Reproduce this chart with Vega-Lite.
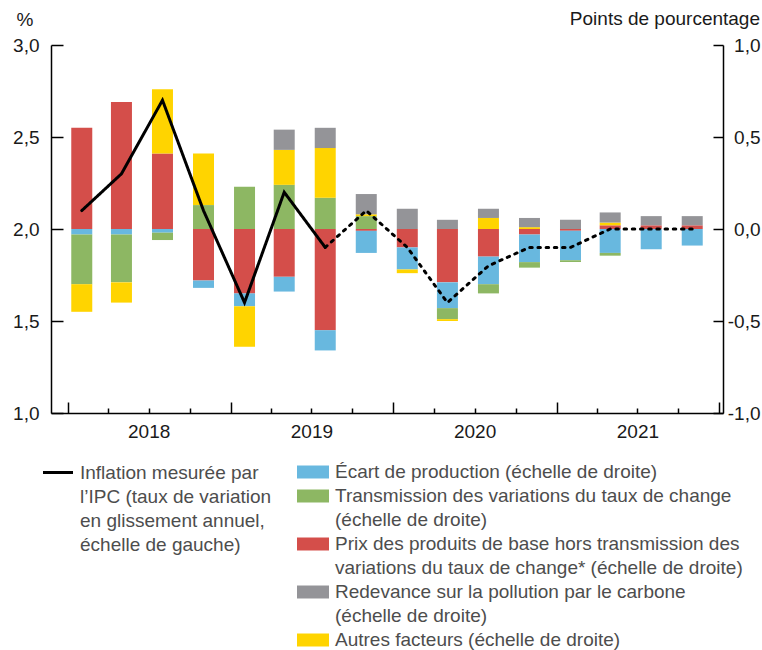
{
  "$schema": "https://vega.github.io/schema/vega-lite/v6.json",
  "width": 672,
  "height": 368,
  "autosize": {"type": "none"},
  "padding": {"left": 51, "top": 45, "right": 39, "bottom": 237},
  "datasets": {
    "barres": [
      {"date": "2018-02-01", "comp": "prix", "v": 0.55},
      {"date": "2018-02-01", "comp": "ecart", "v": -0.03},
      {"date": "2018-02-01", "comp": "transmission", "v": -0.27},
      {"date": "2018-02-01", "comp": "autres", "v": -0.15},
      {"date": "2018-05-01", "comp": "prix", "v": 0.69},
      {"date": "2018-05-01", "comp": "ecart", "v": -0.03},
      {"date": "2018-05-01", "comp": "transmission", "v": -0.26},
      {"date": "2018-05-01", "comp": "autres", "v": -0.11},
      {"date": "2018-08-01", "comp": "prix", "v": 0.41},
      {"date": "2018-08-01", "comp": "autres", "v": 0.35},
      {"date": "2018-08-01", "comp": "ecart", "v": -0.02},
      {"date": "2018-08-01", "comp": "transmission", "v": -0.04},
      {"date": "2018-11-01", "comp": "transmission", "v": 0.13},
      {"date": "2018-11-01", "comp": "autres", "v": 0.28},
      {"date": "2018-11-01", "comp": "prix", "v": -0.28},
      {"date": "2018-11-01", "comp": "ecart", "v": -0.04},
      {"date": "2019-02-01", "comp": "transmission", "v": 0.23},
      {"date": "2019-02-01", "comp": "prix", "v": -0.35},
      {"date": "2019-02-01", "comp": "ecart", "v": -0.07},
      {"date": "2019-02-01", "comp": "autres", "v": -0.22},
      {"date": "2019-05-01", "comp": "transmission", "v": 0.24},
      {"date": "2019-05-01", "comp": "autres", "v": 0.19},
      {"date": "2019-05-01", "comp": "redevance", "v": 0.11},
      {"date": "2019-05-01", "comp": "prix", "v": -0.26},
      {"date": "2019-05-01", "comp": "ecart", "v": -0.08},
      {"date": "2019-08-01", "comp": "transmission", "v": 0.17},
      {"date": "2019-08-01", "comp": "autres", "v": 0.27},
      {"date": "2019-08-01", "comp": "redevance", "v": 0.11},
      {"date": "2019-08-01", "comp": "prix", "v": -0.55},
      {"date": "2019-08-01", "comp": "ecart", "v": -0.11},
      {"date": "2019-11-01", "comp": "transmission", "v": 0.07},
      {"date": "2019-11-01", "comp": "autres", "v": 0.01},
      {"date": "2019-11-01", "comp": "redevance", "v": 0.11},
      {"date": "2019-11-01", "comp": "prix", "v": -0.01},
      {"date": "2019-11-01", "comp": "ecart", "v": -0.12},
      {"date": "2020-02-01", "comp": "redevance", "v": 0.11},
      {"date": "2020-02-01", "comp": "prix", "v": -0.10},
      {"date": "2020-02-01", "comp": "ecart", "v": -0.12},
      {"date": "2020-02-01", "comp": "autres", "v": -0.02},
      {"date": "2020-05-01", "comp": "redevance", "v": 0.05},
      {"date": "2020-05-01", "comp": "prix", "v": -0.29},
      {"date": "2020-05-01", "comp": "ecart", "v": -0.14},
      {"date": "2020-05-01", "comp": "transmission", "v": -0.06},
      {"date": "2020-05-01", "comp": "autres", "v": -0.01},
      {"date": "2020-08-01", "comp": "autres", "v": 0.06},
      {"date": "2020-08-01", "comp": "redevance", "v": 0.05},
      {"date": "2020-08-01", "comp": "prix", "v": -0.15},
      {"date": "2020-08-01", "comp": "ecart", "v": -0.15},
      {"date": "2020-08-01", "comp": "transmission", "v": -0.05},
      {"date": "2020-11-01", "comp": "autres", "v": 0.01},
      {"date": "2020-11-01", "comp": "redevance", "v": 0.05},
      {"date": "2020-11-01", "comp": "prix", "v": -0.03},
      {"date": "2020-11-01", "comp": "ecart", "v": -0.15},
      {"date": "2020-11-01", "comp": "transmission", "v": -0.03},
      {"date": "2021-02-01", "comp": "redevance", "v": 0.05},
      {"date": "2021-02-01", "comp": "prix", "v": -0.01},
      {"date": "2021-02-01", "comp": "ecart", "v": -0.16},
      {"date": "2021-02-01", "comp": "transmission", "v": -0.01},
      {"date": "2021-05-01", "comp": "prix", "v": 0.02},
      {"date": "2021-05-01", "comp": "autres", "v": 0.015},
      {"date": "2021-05-01", "comp": "redevance", "v": 0.055},
      {"date": "2021-05-01", "comp": "ecart", "v": -0.13},
      {"date": "2021-05-01", "comp": "transmission", "v": -0.015},
      {"date": "2021-08-01", "comp": "prix", "v": 0.02},
      {"date": "2021-08-01", "comp": "redevance", "v": 0.05},
      {"date": "2021-08-01", "comp": "ecart", "v": -0.11},
      {"date": "2021-11-01", "comp": "prix", "v": 0.02},
      {"date": "2021-11-01", "comp": "redevance", "v": 0.05},
      {"date": "2021-11-01", "comp": "ecart", "v": -0.09}
    ],
    "composantes": [
      {"comp": "prix", "rang": 1},
      {"comp": "ecart", "rang": 2},
      {"comp": "transmission", "rang": 3},
      {"comp": "autres", "rang": 4},
      {"comp": "redevance", "rang": 5}
    ],
    "ipc": [
      {"date": "2018-02-01", "ipc": 2.1, "statut": "reel"},
      {"date": "2018-05-01", "ipc": 2.3, "statut": "reel"},
      {"date": "2018-08-01", "ipc": 2.7, "statut": "reel"},
      {"date": "2018-11-01", "ipc": 2.1, "statut": "reel"},
      {"date": "2019-02-01", "ipc": 1.6, "statut": "reel"},
      {"date": "2019-05-01", "ipc": 2.2, "statut": "reel"},
      {"date": "2019-08-01", "ipc": 1.9, "statut": "reel"},
      {"date": "2019-08-01", "ipc": 1.9, "statut": "projection"},
      {"date": "2019-11-01", "ipc": 2.1, "statut": "projection"},
      {"date": "2020-02-01", "ipc": 1.9, "statut": "projection"},
      {"date": "2020-05-01", "ipc": 1.6, "statut": "projection"},
      {"date": "2020-08-01", "ipc": 1.8, "statut": "projection"},
      {"date": "2020-11-01", "ipc": 1.9, "statut": "projection"},
      {"date": "2021-02-01", "ipc": 1.9, "statut": "projection"},
      {"date": "2021-05-01", "ipc": 2.0, "statut": "projection"},
      {"date": "2021-08-01", "ipc": 2.0, "statut": "projection"},
      {"date": "2021-11-01", "ipc": 2.0, "statut": "projection"}
    ]
  },
  "layer": [
    {
      "data": {"name": "barres"},
      "transform": [
        {"lookup": "comp", "from": {"data": {"name": "composantes"}, "key": "comp", "fields": ["rang"]}}
      ],
      "mark": {"type": "bar", "width": 21},
      "encoding": {
        "x": {
          "field": "date", "type": "temporal",
          "scale": {"type": "utc", "padding": 0, "domain": [{"year": 2017, "month": 11, "date": 24, "utc": true}, {"year": 2022, "month": 1, "date": 9, "utc": true}]},
          "axis": {
            "orient": "bottom",
            "values": [
              {"year": 2018, "month": 4, "date": 1, "utc": true}, {"year": 2018, "month": 7, "date": 1, "utc": true}, {"year": 2018, "month": 10, "date": 1, "utc": true},
              {"year": 2019, "month": 4, "date": 1, "utc": true}, {"year": 2019, "month": 7, "date": 1, "utc": true}, {"year": 2019, "month": 10, "date": 1, "utc": true},
              {"year": 2020, "month": 4, "date": 1, "utc": true}, {"year": 2020, "month": 7, "date": 1, "utc": true}, {"year": 2020, "month": 10, "date": 1, "utc": true},
              {"year": 2021, "month": 4, "date": 1, "utc": true}, {"year": 2021, "month": 7, "date": 1, "utc": true}, {"year": 2021, "month": 10, "date": 1, "utc": true}
            ],
            "title": null,
            "grid": false,
            "domain": false,
            "tickColor": "#000", "tickWidth": 1.5,
            "tickSize": -5,
            "labelExpr": "utcmonth(datum.value) === 6 ? utcFormat(datum.value, '%Y') : ''",
            "labelBaseline": "top",
            "labelPadding": 14,
            "labelFlush": false,
            "labelOverlap": false
          }
        },
        "y": {
          "field": "v", "type": "quantitative", "stack": "zero",
          "scale": {"domain": [-1, 1], "nice": false, "zero": false},
          "axis": {
            "orient": "right",
            "values": [-1, -0.5, 0, 0.5, 1],
            "title": "Points de pourcentage",
            "titleAngle": 0, "titleAlign": "right", "titleBaseline": "alphabetic",
            "titleX": 36.5, "titleY": -20.5,
            "labelExpr": "(datum.value < 0 ? '-' : '') + replace(format(abs(datum.value), '.1f'), '.', ',')",
            "labelAlign": "right",
            "labelPadding": 47,
            "tickSize": -10,
            "grid": false,
            "domainColor": "#000", "domainWidth": 1.5,
            "tickColor": "#000", "tickWidth": 1.5,
            "labelFlush": false
          }
        },
        "fill": {
          "field": "comp", "type": "nominal",
          "scale": {
            "domain": ["ecart", "transmission", "prix", "redevance", "autres"],
            "range": ["#68B8DF", "#8DB763", "#D44E4A", "#949498", "#FFD400"]
          },
          "legend": {
            "orient": "none", "legendX": 250, "legendY": 415,
            "title": null,
            "symbolType": "M-1.3333,-0.5417H1.3333V0.5417H-1.3333Z",
            "symbolSize": 576,
            "symbolStrokeWidth": 0,
            "labelOffset": 10,
            "rowPadding": 2,
            "labelExpr": "datum.label === 'ecart' ? 'Écart de production (échelle de droite)' : datum.label === 'transmission' ? ['Transmission des variations du taux de change', '(échelle de droite)'] : datum.label === 'prix' ? ['Prix des produits de base hors transmission des', 'variations du taux de change* (échelle de droite)'] : datum.label === 'redevance' ? ['Redevance sur la pollution par le carbone', '(échelle de droite)'] : 'Autres facteurs (échelle de droite)'"
          }
        },
        "order": {"field": "rang", "type": "quantitative"}
      }
    },
    {
      "layer": [
        {
          "mark": {"type": "rule", "color": "#000", "strokeWidth": 2},
          "encoding": {"y": {"datum": 2}}
        },
        {
          "data": {"name": "ipc"},
          "mark": {"type": "line", "strokeWidth": 3, "strokeCap": "round"},
          "encoding": {
            "x": {
              "field": "date", "type": "temporal",
              "scale": {"type": "utc", "padding": 0, "domain": [{"year": 2017, "month": 11, "date": 24, "utc": true}, {"year": 2022, "month": 1, "date": 9, "utc": true}]},
              "axis": {
                "orient": "bottom",
                "values": [
                  {"year": 2018, "month": 1, "date": 1, "utc": true}, {"year": 2019, "month": 1, "date": 1, "utc": true},
                  {"year": 2020, "month": 1, "date": 1, "utc": true}, {"year": 2021, "month": 1, "date": 1, "utc": true},
                  {"year": 2022, "month": 1, "date": 1, "utc": true}
                ],
                "title": null,
                "grid": false,
                "labels": false,
                "domainColor": "#000", "domainWidth": 1.5,
                "tickColor": "#000", "tickWidth": 1.5,
                "tickSize": -11
              }
            },
            "y": {
              "field": "ipc", "type": "quantitative",
              "scale": {"domain": [1, 3], "nice": false, "zero": false},
              "axis": {
                "orient": "left",
                "values": [1, 1.5, 2, 2.5, 3],
                "title": "%",
                "titleAngle": 0, "titleAlign": "left", "titleBaseline": "alphabetic",
                "titleX": -35, "titleY": -20,
                "labelExpr": "replace(format(datum.value, '.1f'), '.', ',')",
                "labelPadding": 24,
                "tickSize": -12,
                "grid": false,
                "domainColor": "#000", "domainWidth": 1.5,
                "tickColor": "#000", "tickWidth": 1.5,
                "labelFlush": false
              }
            },
            "stroke": {
              "datum": "ipc", "type": "nominal",
              "scale": {"domain": ["ipc"], "range": ["#000"]},
              "legend": {
                "orient": "none", "legendX": -9.5, "legendY": 411,
                "title": null,
                "symbolType": "stroke",
                "symbolSize": 900,
                "symbolStrokeWidth": 3,
                "labelOffset": 5.5,
                "labelExpr": "['Inflation mesurée par', 'l’IPC (taux de variation', 'en glissement annuel,', 'échelle de gauche)']"
              }
            },
            "strokeDash": {
              "field": "statut", "type": "nominal",
              "scale": {"domain": ["reel", "projection"], "range": [[1, 0], [2.5, 5.7]]},
              "legend": null
            }
          }
        }
      ]
    }
  ],
  "resolve": {"scale": {"y": "independent"}, "axis": {"x": "independent"}},
  "config": {
    "font": "Liberation Sans",
    "view": {"stroke": null},
    "axis": {
      "labelFontSize": 19, "labelColor": "#1a1a1a", "labelFont": "Liberation Sans",
      "titleFontSize": 19, "titleColor": "#1a1a1a", "titleFontWeight": "normal", "titleFont": "Liberation Sans"
    },
    "legend": {
      "labelFontSize": 19, "labelColor": "#4d4d4d", "labelFont": "Liberation Sans", "labelLimit": 600
    },
    "style": {"guide-label": {"lineHeight": 24}}
  }
}
